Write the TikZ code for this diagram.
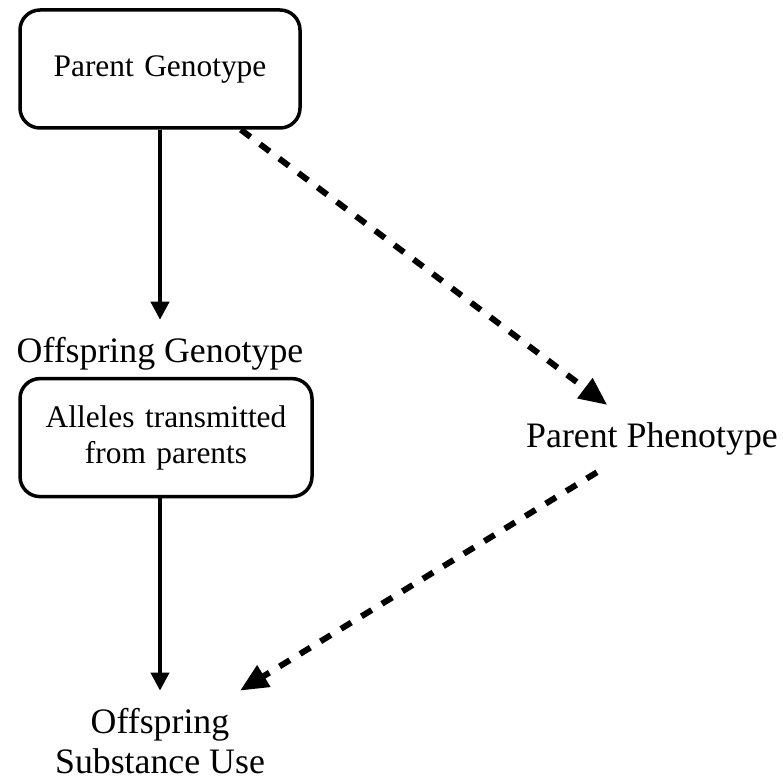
\documentclass[tikz,border=0pt]{standalone}
\usepackage{fontspec}
\setmainfont{Liberation Serif}
\usetikzlibrary{arrows.meta}

\tikzstyle{block}=[rectangle,draw,line width=1.75pt,text width=130pt,
text centered,rounded corners=10pt,minimum width=140pt,minimum height=59pt,
font=\fontsize{15.7}{18}\selectfont]
\tikzstyle{txt}=[align=center,inner sep=8.5pt,font=\fontsize{17.9}{20}\selectfont]
\tikzstyle{line} = [draw, line width=2pt, -{Triangle[length=9pt,width=9pt]}]
\tikzstyle{dline} = [draw, line width=3pt, dash pattern=on 6pt off 6pt,
-{Triangle[length=14pt,width=12pt]}]

\begin{document}
\begin{tikzpicture}[x=0.5pt,y=-0.5pt]
\useasboundingbox (0,0) rectangle (783,781);
\node [block] (pgeno) at (160,69) {Parent Genotype};
\node [txt,below of=pgeno,node distance=142.3pt] (ogeno) {Offspring Genotype};
\node [block,below of=ogeno,node distance=42pt,xshift=3pt,minimum width=146pt] (alleles) {Alleles transmitted\\ from parents};
\node [txt,below of=alleles,node distance=151.6pt,xshift=-3pt] (outcome) {Offspring\\ Substance Use};
\node [txt,right of=alleles,node distance=243pt,yshift=-0.5pt] (pheno) {Parent Phenotype};
\path [line] (pgeno.south) -- (ogeno.north);
\path [line] (alleles.south -| ogeno) -- (outcome.north);
\path [dline] (pgeno) -- (pheno);
\path [dline] (pheno) -- ([xshift=40pt]outcome.north);
\end{tikzpicture}
\end{document}
